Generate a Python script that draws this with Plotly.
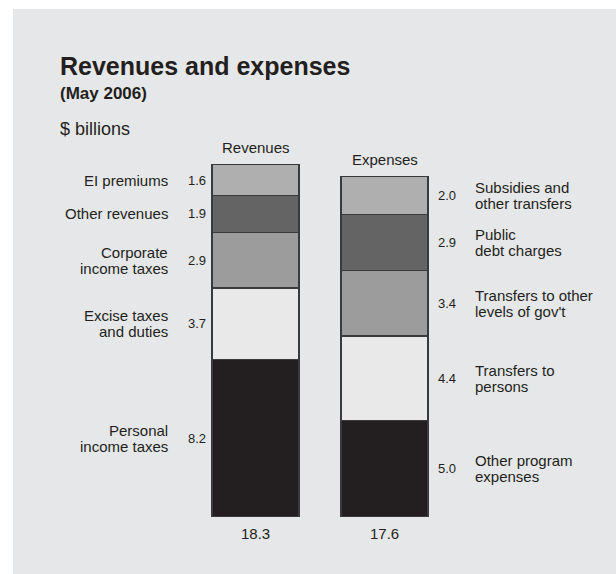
import plotly.graph_objects as go

# ---------------- data ----------------
bar_names = ["Revenues", "Expenses"]
bar_totals = ["18.3", "17.6"]

rev_labels = ["EI premiums", "Other revenues", "Corporate\nincome taxes",
              "Excise taxes\nand duties", "Personal\nincome taxes"]
rev_values = [1.6, 1.9, 2.9, 3.7, 8.2]

exp_labels = ["Subsidies and\nother transfers", "Public\ndebt charges",
              "Transfers to other\nlevels of gov't", "Transfers to\npersons",
              "Other program\nexpenses"]
exp_values = [2.0, 2.9, 3.4, 4.4, 5.0]

title = "Revenues and expenses"
subtitle = "(May 2006)"
unit_label = "$ billions"

# ---------------- styling ----------------
shades = ["#afafaf", "#646464", "#9c9c9c", "#e9e9e9", "#231f20"]
TXT = "#231f20"
FONT = "Liberation Sans, Arial, Helvetica, sans-serif"
W, H = 616, 574
ML, MR, MT, MB = 191, 167, 132, 57
PW = W - ML - MR
PH = H - MT - MB


def px_x(p):
    return (p - ML) / PW


def px_y(p):
    return (H - MB - p) / PH


fig = go.Figure()

# stacked bars: draw from bottom segment upward
for name, vals in ((bar_names[0], rev_values), (bar_names[1], exp_values)):
    for v, c in reversed(list(zip(vals, shades))):
        fig.add_trace(go.Bar(
            x=[name], y=[v], marker=dict(color=c, line=dict(color="#3a3a3a", width=1.2)),
            showlegend=False, hoverinfo="skip"))

annotations = []


def add_multiline(text, x, y, anchor, size, yref="y", xref="paper", line_h=16):
    lines = text.split("\n")
    n = len(lines)
    for i, ln in enumerate(lines):
        annotations.append(dict(
            text=ln, x=x, y=y, xref=xref, yref=yref, xanchor=anchor, yanchor="middle",
            yshift=((n - 1) / 2 - i) * line_h, showarrow=False,
            font=dict(family=FONT, size=size, color=TXT)))


def centers(vals):
    total = sum(vals)
    out, top = [], total
    for v in vals:
        out.append(top - v / 2)
        top -= v
    return out


# revenue side labels (left)
for lab, v, cy in zip(rev_labels, rev_values, centers(rev_values)):
    add_multiline(lab, px_x(170), cy, "right", 15)
    add_multiline(f"{v:.1f}", px_x(208), cy, "right", 13)

# expense side labels (right)
for lab, v, cy in zip(exp_labels, exp_values, centers(exp_values)):
    add_multiline(f"{v:.1f}", px_x(436), cy, "left", 13)
    add_multiline(lab, px_x(473), cy, "left", 15)

# bar names on top and totals below
for name, vals, tot in zip(bar_names, (rev_values, exp_values), bar_totals):
    annotations.append(dict(text=name, x=name, y=sum(vals), xref="x", yref="y",
                            yanchor="middle", yshift=17, showarrow=False,
                            font=dict(family=FONT, size=15, color=TXT)))
    annotations.append(dict(text=tot, x=name, y=0, xref="x", yref="y",
                            yanchor="middle", yshift=-16, showarrow=False,
                            font=dict(family=FONT, size=15, color=TXT)))

# titles
annotations.append(dict(text=f"<b>{title}</b>", x=px_x(58), y=px_y(66), xref="paper", yref="paper",
                        xanchor="left", yanchor="middle", showarrow=False,
                        font=dict(family=FONT, size=25, color=TXT)))
annotations.append(dict(text=f"<b>{subtitle}</b>", x=px_x(58), y=px_y(94), xref="paper", yref="paper",
                        xanchor="left", yanchor="middle", showarrow=False,
                        font=dict(family=FONT, size=17, color=TXT)))
annotations.append(dict(text=unit_label, x=px_x(58), y=px_y(129), xref="paper", yref="paper",
                        xanchor="left", yanchor="middle", showarrow=False,
                        font=dict(family=FONT, size=18, color=TXT)))

fig.update_layout(
    width=W, height=H,
    margin=dict(l=ML, r=MR, t=MT, b=MB, autoexpand=False),
    barmode="stack", bargap=0.326,
    paper_bgcolor="white", plot_bgcolor="rgba(0,0,0,0)",
    xaxis=dict(visible=False, range=[-0.5, 1.5], categoryorder="array", categoryarray=bar_names),
    yaxis=dict(visible=False, range=[0, 20]),
    shapes=[dict(type="rect", xref="paper", yref="paper", layer="below",
                 x0=px_x(13), x1=px_x(W + 2), y0=px_y(9), y1=px_y(H + 2),
                 fillcolor="#e6e7e8", line=dict(width=0))],
    annotations=annotations,
)

fig.write_html("out.html")
